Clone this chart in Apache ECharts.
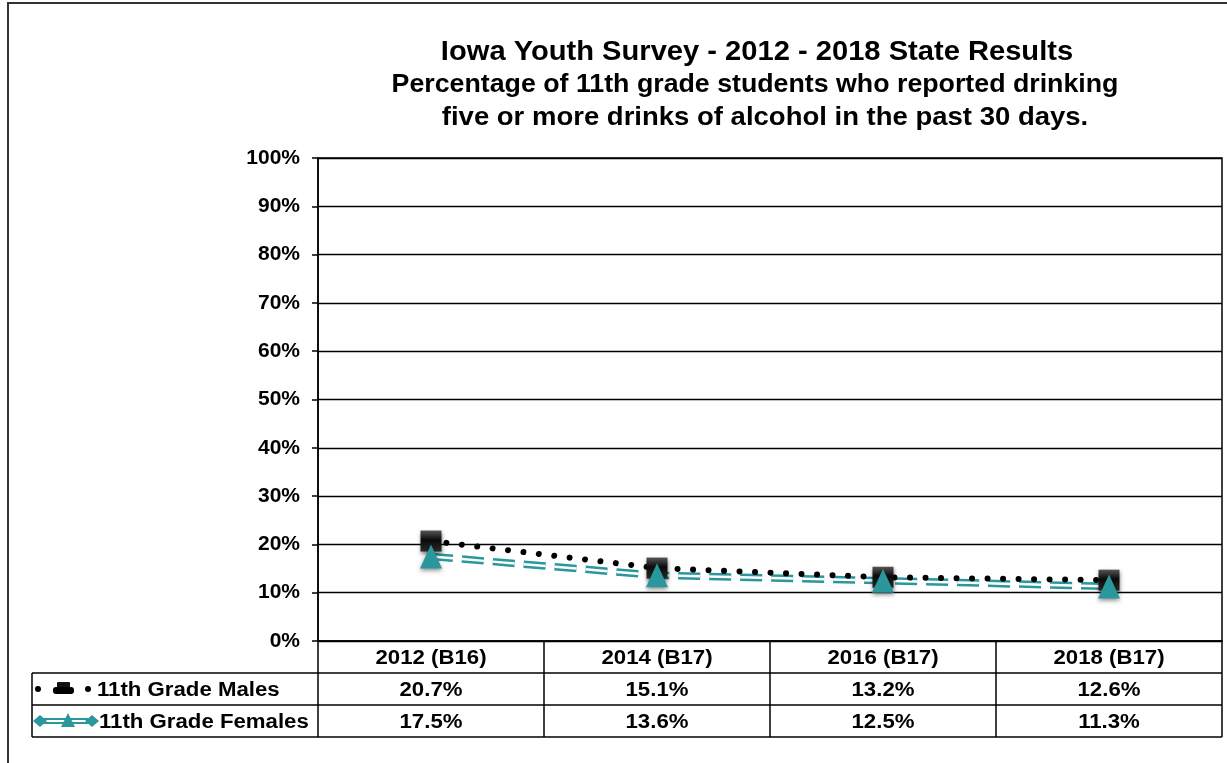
<!DOCTYPE html>
<html><head><meta charset="utf-8">
<script src="https://cdn.jsdelivr.net/npm/echarts@6/dist/echarts.min.js"></script>
<style>html,body{margin:0;padding:0;background:#fff}#c{width:1227px;height:763px}</style>
</head><body><div id="c"></div>
<script>
const categories = ['2012 (B16)', '2014 (B17)', '2016 (B17)', '2018 (B17)'];
const seriesNames = ['11th Grade Males', '11th Grade Females'];
const males = [20.7, 15.1, 13.2, 12.6];
const females = [17.5, 13.6, 12.5, 11.3];
const titleLines = [
  'Iowa Youth Survey - 2012 - 2018 State Results',
  'Percentage of 11th grade students who reported drinking',
  'five or more drinks of alcohol in the past 30 days.'
];

const TEAL = '#2A979D';
const FONT = '"Liberation Sans", Arial, sans-serif';
const L = 318, R = 1222, T = 158, B = 641;
const rowH = 32, tableLeft = 32;
const colW = (R - L) / categories.length;

const chart = echarts.init(document.getElementById('c'), null, {renderer: 'canvas'});

const g = [];
// outer frame
g.push({type: 'polyline', shape: {points: [[8, 763], [8, 3], [1227, 3]]}, style: {stroke: '#333', lineWidth: 2, fill: null}, z: 1});
// title
const tSpec = [[28, 52, 1.04, 757], [25, 85, 1.07, 755], [25, 118, 1.10, 765]];
titleLines.forEach((t, i) => {
  g.push({type: 'text', x: tSpec[i][3], y: tSpec[i][1], scaleX: tSpec[i][2],
    style: {text: t, font: 'bold ' + tSpec[i][0] + 'px ' + FONT, fill: '#000', align: 'center', verticalAlign: 'middle'}});
});
// table lines
const stroke = {stroke: '#000', lineWidth: 1.5};
[B + rowH, B + 2 * rowH, B + 3 * rowH].forEach(y => {
  g.push({type: 'line', shape: {x1: tableLeft, y1: y, x2: R, y2: y}, style: stroke});
});
g.push({type: 'line', shape: {x1: tableLeft, y1: B + rowH, x2: tableLeft, y2: B + 3 * rowH}, style: stroke});
for (let k = 0; k <= categories.length; k++) {
  const x = L + k * colW;
  g.push({type: 'line', shape: {x1: x, y1: B, x2: x, y2: B + 3 * rowH}, style: stroke});
}
// table texts
const cellFont = 'bold 20px ' + FONT;
const SX = 1.11;
function cell(text, x, y, align) {
  g.push({type: 'text', x: x, y: y, scaleX: SX, style: {text: text, font: cellFont, fill: '#000', align: align || 'center', verticalAlign: 'middle'}});
}
categories.forEach((c, k) => {
  const cx = L + (k + 0.5) * colW;
  cell(c, cx, B + rowH / 2 + 1);
  cell(males[k].toFixed(1) + '%', cx, B + rowH * 1.5 + 1);
  cell(females[k].toFixed(1) + '%', cx, B + rowH * 2.5 + 1);
});
// legend labels
cell(seriesNames[0], 97, B + rowH * 1.5 + 1, 'left');
cell(seriesNames[1], 99, B + rowH * 2.5 + 1, 'left');
// legend keys: males
const my = B + rowH * 1.5;
g.push({type: 'circle', shape: {cx: 38, cy: my, r: 3}, style: {fill: '#000'}});
g.push({type: 'circle', shape: {cx: 88, cy: my, r: 3}, style: {fill: '#000'}});
g.push({type: 'rect', shape: {x: 57, y: my - 7, width: 13, height: 6, r: 1}, style: {fill: '#111'}});
g.push({type: 'rect', shape: {x: 53, y: my - 2, width: 21, height: 7, r: 3}, style: {fill: '#000'}});
// legend keys: females
const fy = B + rowH * 2.5;
g.push({type: 'line', shape: {x1: 40, y1: fy - 2, x2: 92, y2: fy - 2}, style: {stroke: TEAL, lineWidth: 2}});
g.push({type: 'line', shape: {x1: 40, y1: fy + 2, x2: 92, y2: fy + 2}, style: {stroke: TEAL, lineWidth: 2}});
g.push({type: 'polygon', shape: {points: [[33, fy], [40, fy - 6], [47, fy], [40, fy + 6]]}, style: {fill: TEAL}});
g.push({type: 'polygon', shape: {points: [[85, fy], [92, fy - 6], [99, fy], [92, fy + 6]]}, style: {fill: TEAL}});
g.push({type: 'polygon', shape: {points: [[61, fy + 6], [68, fy - 8], [75, fy + 6]]}, style: {fill: TEAL}});

const option = {
  animation: false,
  backgroundColor: '#fff',
  grid: {left: L, right: 1227 - R, top: T, bottom: 763 - B, show: true, borderColor: '#000', borderWidth: 1.5},
  xAxis: {
    type: 'category', data: categories, boundaryGap: true,
    axisLine: {lineStyle: {color: '#000', width: 1.5}},
    axisTick: {show: false}, axisLabel: {show: false}, splitLine: {show: false}
  },
  yAxis: {
    type: 'value', min: 0, max: 100, interval: 10,
    axisLine: {show: true, lineStyle: {color: '#000', width: 1.5}},
    axisTick: {show: true, length: 6, lineStyle: {color: '#000', width: 1.5}},
    axisLabel: {formatter: '{value}%', fontFamily: FONT, fontWeight: 'bold', fontSize: 21, color: '#000', margin: 18},
    splitLine: {lineStyle: {color: '#000', width: 1.3}}
  },
  series: [
    {
      name: seriesNames[1], type: 'line', data: females, z: 2,
      symbol: 'none',
      lineStyle: {color: TEAL, width: 7.5, type: [22, 9]}
    },
    {
      name: seriesNames[1] + ' inner', type: 'line', data: females, z: 3,
      symbol: 'none', silent: true,
      lineStyle: {color: '#fff', width: 2.5, type: [22, 9]}
    },
    {
      name: seriesNames[0], type: 'line', data: males, z: 4,
      symbol: 'rect', symbolSize: 21,
      itemStyle: {
        color: new echarts.graphic.LinearGradient(0, 0, 0, 1, [{offset: 0, color: '#555'}, {offset: 0.45, color: '#0a0a0a'}, {offset: 1, color: '#2a2a2a'}]),
        shadowBlur: 4, shadowColor: 'rgba(0,0,0,0.5)', shadowOffsetY: 2
      },
      lineStyle: {color: '#000', width: 6, type: [0.01, 15.5], cap: 'round'}
    },
    {
      name: seriesNames[1] + ' markers', type: 'line', data: females, z: 5,
      symbol: 'triangle', symbolSize: [22, 24],
      itemStyle: {color: TEAL, shadowBlur: 4, shadowColor: 'rgba(0,0,0,0.45)', shadowOffsetY: 2},
      lineStyle: {width: 0, opacity: 0}
    }
  ],
  graphic: {elements: g}
};
chart.setOption(option);
</script></body></html>
